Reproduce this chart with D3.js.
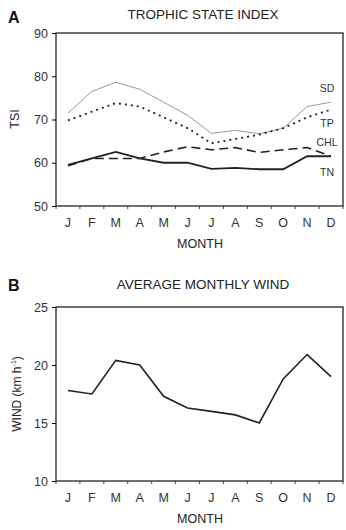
<!DOCTYPE html>
<html>
<head>
<meta charset="utf-8">
<script src="https://cdn.jsdelivr.net/npm/d3@7"></script>
<style>
  body { margin: 0; background: #fff; }
  svg { font-family: "Liberation Sans", Arial, sans-serif; }
  .tick text { fill: #333; }
</style>
</head>
<body>
<svg id="chart" width="346" height="530"></svg>
<script>
// data
const months = ["J", "F", "M", "A", "M", "J", "J", "A", "S", "O", "N", "D"];
const sd  = [71.5, 76.5, 78.6, 77, 74, 71, 66.8, 67.5, 66.7, 68, 73, 74];
const tp  = [69.8, 71.8, 73.8, 73, 70.5, 68, 64.5, 65.5, 66.5, 68, 70.5, 72.3];
const chl = [59.3, 61, 61, 61, 62.5, 63.7, 63, 63.5, 62.4, 63, 63.5, 61.5];
const tn  = [59.5, 61, 62.5, 61, 60, 60, 58.6, 58.8, 58.5, 58.5, 61.5, 61.5];
const wind = [17.8, 17.5, 20.4, 20, 17.3, 16.3, 16, 15.7, 15, 18.8, 20.9, 19];
const tsiTicks = [50, 60, 70, 80, 90];
const windTicks = [10, 15, 20, 25];

const svg = d3.select("#chart");
const idx = d3.range(12);

const x = d3.scaleBand().domain(idx).range([56, 343]);
const cx = i => x(i) + x.bandwidth() / 2;

function panel(top, bottom, yDomain, ticks, letter, title, letterY, titleY) {
  let y = d3.scaleLinear().domain(yDomain).range([bottom, top]);

  svg.append("rect")
    .attr("x", 56).attr("y", top)
    .attr("width", 343 - 56).attr("height", bottom - top)
    .attr("fill", "none").attr("stroke", "#222").attr("stroke-width", 1.3);

  let yAxis = svg.append("g")
    .attr("transform", `translate(56,0)`)
    .call(d3.axisLeft(y).tickValues(ticks).tickSize(4).tickPadding(4));
  yAxis.select(".domain").remove();
  yAxis.selectAll("text").attr("font-size", 12.5);

  let xAxis = svg.append("g")
    .attr("transform", `translate(0,${bottom})`)
    .call(d3.axisBottom(x).tickSize(0).tickPadding(12).tickFormat(i => months[i]));
  xAxis.select(".domain").remove();
  xAxis.selectAll("text").attr("font-size", 12.5);

  // ticks at month boundaries
  svg.append("g").selectAll("line")
    .data(d3.range(13))
    .join("line")
    .attr("x1", i => 56 + i * x.bandwidth())
    .attr("x2", i => 56 + i * x.bandwidth())
    .attr("y1", bottom).attr("y2", bottom + 3)
    .attr("stroke", "#444");

  svg.append("text")
    .attr("x", 200).attr("y", bottom + 42)
    .attr("text-anchor", "middle").attr("font-size", 12.5).attr("fill", "#222")
    .text("MONTH");

  svg.append("text")
    .attr("x", 8).attr("y", letterY)
    .attr("font-size", 16).attr("font-weight", "bold").attr("fill", "#111")
    .text(letter);

  svg.append("text")
    .attr("x", 203).attr("y", titleY)
    .attr("text-anchor", "middle").attr("font-size", 13.5).attr("fill", "#222")
    .text(title);

  return y;
}

// Panel A
let yA = panel(33, 206, [50, 90], tsiTicks, "A", "TROPHIC STATE INDEX", 23, 19);

let seriesA = [
  { name: "SD", values: sd, color: "#999", width: 1, dash: null, ly: 92 },
  { name: "TP", values: tp, color: "#222", width: 1.8, dash: "2,4", ly: 127 },
  { name: "CHL", values: chl, color: "#222", width: 1.6, dash: "9,5", ly: 146 },
  { name: "TN", values: tn, color: "#222", width: 1.8, dash: null, ly: 176 }
];

seriesA.forEach(s => {
  svg.append("path")
    .datum(idx)
    .attr("fill", "none")
    .attr("stroke", s.color)
    .attr("stroke-width", s.width)
    .attr("stroke-dasharray", s.dash)
    .attr("d", d3.line().x(cx).y(i => yA(s.values[i])));

  svg.append("text")
    .attr("x", 327).attr("y", s.ly)
    .attr("text-anchor", "middle").attr("font-size", 10.5).attr("fill", "#333")
    .text(s.name);
});

svg.append("text")
  .attr("transform", `translate(19,119) rotate(-90)`)
  .attr("text-anchor", "middle").attr("font-size", 12.5).attr("fill", "#222")
  .text("TSI");

// Panel B
let yB = panel(307, 481, [10, 25], windTicks, "B", "AVERAGE MONTHLY WIND", 291, 289);

svg.append("path")
  .datum(idx)
  .attr("fill", "none")
  .attr("stroke", "#222")
  .attr("stroke-width", 1.6)
  .attr("d", d3.line().x(cx).y(i => yB(wind[i])));

let wl = svg.append("text")
  .attr("transform", `translate(21,394) rotate(-90)`)
  .attr("text-anchor", "middle").attr("font-size", 12).attr("fill", "#222");
wl.append("tspan").text("WIND (km h");
wl.append("tspan").attr("dy", -5).attr("font-size", 7).text("-1");
wl.append("tspan").attr("dy", 5).text(")");
</script>
</body>
</html>
